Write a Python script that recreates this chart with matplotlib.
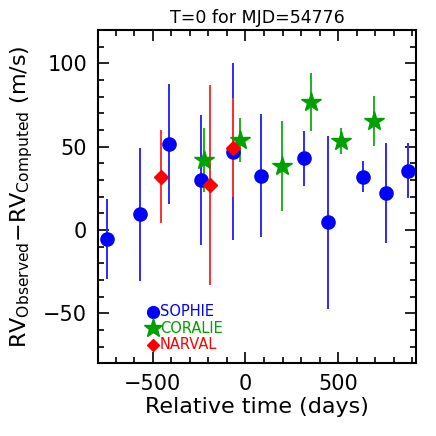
import numpy as np
import matplotlib
matplotlib.use('Agg')
from matplotlib import pyplot as plt
from matplotlib.ticker import MultipleLocator

plt.rcParams['mathtext.fontset'] = 'dejavusans'

# SOPHIE
sophie_t = [-748, -569, -412, -240, -65, 86, 317, 448, 636, 759, 875]
sophie_rv = [-5.5, 9.5, 51.5, 30, 47, 32.5, 43, 4.5, 32, 22, 35.5]
sophie_err = [24, 40, 36, 39, 53, 37, 16.5, 52, 9.5, 30, 16.5]
# CORALIE
coralie_t = [-222, -32, 197, 356, 515, 696]
coralie_rv = [42, 54, 38.5, 77, 53.5, 65.5]
coralie_err = [19.5, 13, 27, 17.5, 8, 15]
# NARVAL
narval_t = [-457, -190, -69]
narval_rv = [32, 27, 49.5]
narval_err = [28, 60, 30]

fig = plt.figure(figsize=(4.36, 4.36), dpi=100)
ax = fig.add_axes([0.225, 0.167, 0.729, 0.764])

ax.errorbar(sophie_t, sophie_rv, yerr=sophie_err, fmt='o', color='#0000ff',
            ecolor='#2a2aff', elinewidth=1.4, capsize=0, markersize=9.5, zorder=3)
ax.errorbar(coralie_t, coralie_rv, yerr=coralie_err, fmt='*', color='#00a000',
            ecolor='#20b020', elinewidth=1.4, capsize=0, markersize=15, zorder=3)
ax.errorbar(narval_t, narval_rv, yerr=narval_err, fmt='D', color='#ff0000',
            ecolor='#ff3030', elinewidth=1.4, capsize=0, markersize=7, zorder=3)

# legend drawn as symbols + coloured text
leg_y = [-49, -59, -69]
ax.plot([-500], [leg_y[0]], 'o', color='#0000ff', markersize=8.5)
ax.plot([-500], [leg_y[1]], '*', color='#00a000', markersize=14)
ax.plot([-500], [leg_y[2]], 'D', color='#ff0000', markersize=6)
ax.text(-462, leg_y[0], 'SOPHIE', color='#0000ff', fontsize=10.5, va='center')
ax.text(-462, leg_y[1], 'CORALIE', color='#00a000', fontsize=10.5, va='center')
ax.text(-462, leg_y[2], 'NARVAL', color='#ff0000', fontsize=10.5, va='center')

ax.set_xlim(-795, 920)
ax.set_ylim(-80, 120)
ax.xaxis.set_major_locator(MultipleLocator(500))
ax.xaxis.set_minor_locator(MultipleLocator(100))
ax.yaxis.set_major_locator(MultipleLocator(50))
ax.yaxis.set_minor_locator(MultipleLocator(10))
ax.tick_params(which='both', direction='in', top=True, right=True, width=1.2)
ax.tick_params(which='major', length=8, labelsize=15, pad=8)
ax.tick_params(which='minor', length=4)
for s in ax.spines.values():
    s.set_linewidth(1.5)

ax.set_xlabel('Relative time (days)', fontsize=16, labelpad=2)
ax.set_ylabel(r'RV$_{\rm Observed}$$-$RV$_{\rm Computed}$ (m/s)', fontsize=16, labelpad=6)
ax.set_title('T=0 for MJD=54776', fontsize=12.5, pad=5)

plt.savefig('out.png', dpi=100)
